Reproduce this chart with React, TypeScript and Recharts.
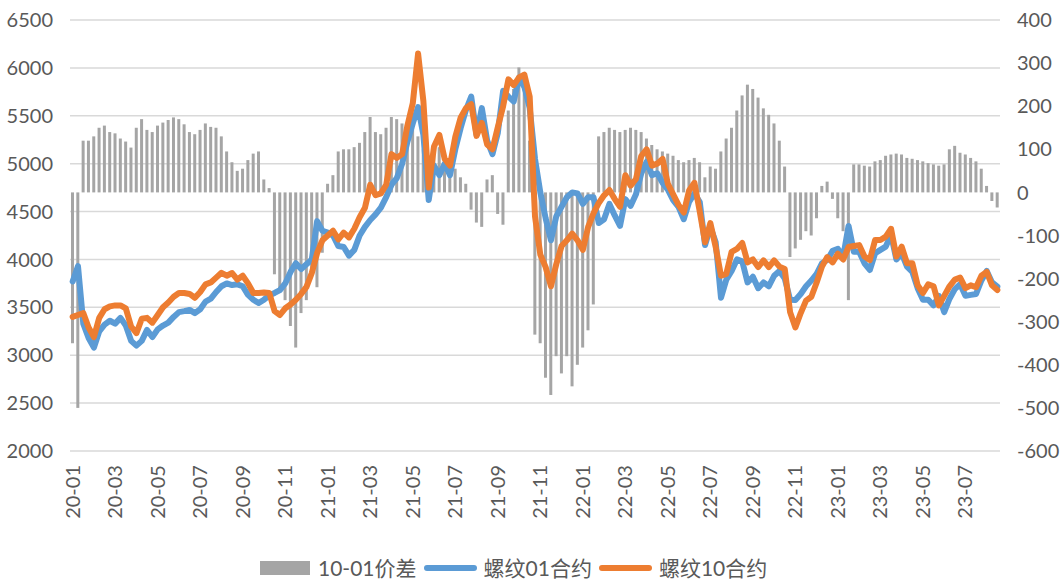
import { Bar, CartesianGrid, ComposedChart, Line, XAxis, YAxis } from "recharts";

// month labels, four weekly points per month (last month partial)
const months = [
  "20-01", "20-02", "20-03", "20-04", "20-05", "20-06", "20-07", "20-08", "20-09", "20-10", "20-11", "20-12",
  "21-01", "21-02", "21-03", "21-04", "21-05", "21-06", "21-07", "21-08", "21-09", "21-10", "21-11", "21-12",
  "22-01", "22-02", "22-03", "22-04", "22-05", "22-06", "22-07", "22-08", "22-09", "22-10", "22-11", "22-12",
  "23-01", "23-02", "23-03", "23-04", "23-05", "23-06", "23-07", "23-08",
];

// 10-01价差 (right axis)
const spread = [
  -350, -500, 120, 120, 130, 150, 155, 140, 137, 125, 118, 104, 150, 170, 145, 140,
  155, 162, 168, 174, 170, 158, 140, 135, 145, 160, 152, 150, 130, 95, 70, 50,
  55, 75, 90, 95, 30, 10, -190, -230, -250, -310, -360, -280, -250, -190, -220, -140,
  20, 40, 95, 100, 100, 105, 115, 140, 175, 140, 135, 150, 175, 170, 160, 150,
  150, 130, 100, 85, 110, 105, 80, 65, 55, 35, 20, -40, -70, -80, 30, 40,
  -50, -75, 190, 240, 290, 230, 120, -330, -350, -430, -470, -380, -420, -380, -450, -400,
  -360, -320, -260, 130, 140, 150, 145, 140, 145, 150, 145, 140, 125, 110, 100, 95,
  90, 85, 75, 70, 75, 80, 70, 35, 60, 55, 95, 125, 150, 190, 225, 250,
  240, 220, 195, 180, 160, 120, 60, -150, -130, -110, -90, -100, -60, 15, 25, -15,
  -60, -90, -250, 65, 65, 62, 60, 72, 75, 85, 88, 90, 88, 80, 78, 75,
  72, 68, 65, 62, 65, 100, 108, 92, 88, 80, 72, 55, 15, -20, -35,
];

// 螺纹01合约 (left axis)
const rb01 = [
  3770, 3930, 3330, 3180, 3080, 3250, 3320, 3360, 3330, 3390, 3310, 3150, 3100, 3150, 3264, 3190,
  3270, 3310, 3340, 3400, 3450, 3460, 3473, 3440, 3480, 3560, 3590, 3660, 3720, 3750, 3733, 3740,
  3720, 3630, 3580, 3545, 3580, 3625, 3650, 3680, 3750, 3870, 3960, 3900, 3950, 4000, 4400, 4300,
  4280, 4250, 4140, 4130, 4040, 4100, 4250, 4340, 4412, 4470, 4540, 4650, 4780, 4850, 5000, 5230,
  5420, 5590, 5300, 4620, 4980, 4880, 5000, 4880, 5150, 5370, 5560, 5700, 5300, 5580, 5240, 5100,
  5320, 5760, 5700, 5650, 5900, 5800, 5580, 5050, 4700, 4430, 4200, 4450, 4550, 4650, 4700, 4690,
  4580, 4650, 4650, 4380, 4420, 4580, 4460, 4350, 4630, 4560, 4680, 4900, 5020, 4880, 4900, 4800,
  4730, 4620, 4550, 4420, 4600, 4690, 4600, 4150, 4340, 4180, 3600, 3790, 3880, 4000, 3980, 3760,
  3820, 3700, 3760, 3720, 3830, 3880, 3800, 3580, 3577, 3640, 3720, 3780, 3850, 3960, 3994, 4090,
  4110, 4030, 4350, 4080, 4080, 3960, 3890, 4064, 4100, 4134, 4260, 4000, 4064, 3925, 3870, 3700,
  3580, 3580, 3520, 3620, 3450, 3590, 3690, 3740, 3620, 3630, 3640, 3780, 3880, 3760, 3716,
];

// 螺纹10合约 (left axis)
const rb10 = [
  3400, 3420, 3440, 3290, 3190, 3390, 3480, 3510, 3520, 3520, 3490, 3300, 3230, 3380, 3390, 3340,
  3420, 3500, 3550, 3610, 3650, 3650, 3640, 3600, 3660, 3740, 3760, 3810, 3860, 3830, 3858, 3790,
  3830, 3750, 3650, 3650, 3655, 3650, 3460, 3420, 3490, 3530, 3580, 3640, 3713, 3858, 4067, 4200,
  4250, 4300, 4210, 4280, 4230, 4320, 4440, 4540, 4780, 4670, 4690, 4780, 5100, 5060, 5100, 5400,
  5630, 6150, 5650, 4750, 5180, 5300, 5050, 4980, 5280, 5480, 5580, 5620, 5290, 5425, 5200, 5150,
  5380, 5600, 5880, 5820, 5900, 5930, 5700, 4450, 4050, 3920, 3720, 3950, 4140, 4200, 4270, 4200,
  4100, 4340, 4480, 4590, 4670, 4725, 4630, 4550, 4880, 4770, 4840, 5080, 5150, 4980, 5000, 5050,
  4790, 4680, 4570, 4490, 4720, 4800, 4500, 4180, 4380, 4130, 3830, 3850, 4080, 4110, 4172, 3970,
  4000, 3920, 3990, 3920, 3990, 3925, 3900, 3450, 3290, 3440, 3570, 3610, 3760, 3925, 4025, 3970,
  4060, 4000, 4130, 4140, 4150, 4030, 3994, 4203, 4203, 4238, 4320, 4030, 4134, 3960, 3960, 3730,
  3650, 3740, 3720, 3520, 3620, 3720, 3790, 3810, 3700, 3730, 3710, 3830, 3870, 3730, 3680,
];

const leftTicks = [2000, 2500, 3000, 3500, 4000, 4500, 5000, 5500, 6000, 6500];
const rightTicks = [-600, -500, -400, -300, -200, -100, 0, 100, 200, 300, 400];

const data = spread.map((v, i) => ({ idx: i, spread: v, rb01: rb01[i], rb10: rb10[i] }));

const FONT = "Lato, 'Noto Sans CJK SC', sans-serif";
const TEXT = "#595959";

const XTick = (props: any) => {
  const { x, y, payload } = props;
  const i = Number(payload.value);
  if (i % 8 !== 0) return <g />;
  const ty = y + 6;
  return (
    <text
      x={x}
      y={ty}
      transform={`rotate(-90, ${x}, ${ty})`}
      textAnchor="end"
      dy="0.35em"
      fontSize={20}
      fontFamily={FONT}
      fill={TEXT}
    >
      {months[i / 4]}
    </text>
  );
};

const legendItem = { display: "flex", alignItems: "center", marginRight: 7 } as const;

export default function App() {
  return (
    <div style={{ position: "absolute", left: 0, top: 0, width: 1061, height: 582, background: "#fff" }}>
      <ComposedChart width={1061} height={582} data={data} margin={{ top: 20, right: 0, bottom: 51, left: 0 }} barCategoryGap={0}>
        <CartesianGrid yAxisId="left" vertical={false} stroke="#D9D9D9" strokeWidth={1.5} />
        <XAxis dataKey="idx" type="category" axisLine={false} tickLine={false} interval={0} height={80} tick={<XTick />} />
        <YAxis
          yAxisId="left"
          orientation="left"
          width={70}
          domain={[2000, 6500]}
          ticks={leftTicks}
          axisLine={false}
          tickLine={false}
          tickMargin={11}
          tick={{ fontSize: 20, fill: TEXT, fontFamily: FONT }}
        />
        <YAxis
          yAxisId="right"
          orientation="right"
          width={61}
          domain={[-600, 400]}
          ticks={rightTicks}
          axisLine={false}
          tickLine={false}
          tickMargin={11}
          tick={{ fontSize: 20, fill: TEXT, fontFamily: FONT }}
        />
        <Bar yAxisId="right" dataKey="spread" fill="#A5A5A5" barSize={3} isAnimationActive={false} />
        <Line yAxisId="left" type="linear" dataKey="rb01" stroke="#5B9BD5" strokeWidth={6} dot={false} strokeLinejoin="round" strokeLinecap="round" isAnimationActive={false} />
        <Line yAxisId="left" type="linear" dataKey="rb10" stroke="#ED7D31" strokeWidth={6} dot={false} strokeLinejoin="round" strokeLinecap="round" isAnimationActive={false} />
      </ComposedChart>
      <div
        style={{
          position: "absolute",
          top: 556,
          left: 260,
          display: "flex",
          alignItems: "center",
          fontFamily: FONT,
          fontSize: 21,
          color: TEXT,
          lineHeight: "24px",
          whiteSpace: "nowrap",
        }}
      >
        <div style={legendItem}>
          <span style={{ width: 50, height: 14, background: "#A5A5A5", marginRight: 8 }} />
          <span>10-01价差</span>
        </div>
        <div style={legendItem}>
          <span style={{ width: 53, height: 6, borderRadius: 3, background: "#5B9BD5", marginRight: 7 }} />
          <span>螺纹01合约</span>
        </div>
        <div style={legendItem}>
          <span style={{ width: 53, height: 6, borderRadius: 3, background: "#ED7D31", marginRight: 7 }} />
          <span>螺纹10合约</span>
        </div>
      </div>
    </div>
  );
}
